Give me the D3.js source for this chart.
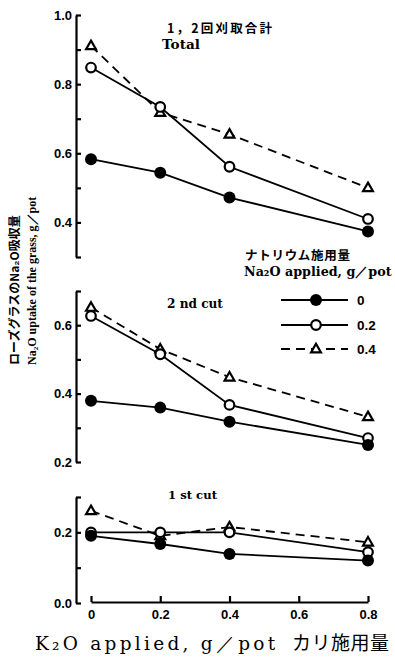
<!DOCTYPE html>
<html>
<head>
<meta charset="utf-8">
<script src="https://cdn.jsdelivr.net/npm/d3@7"></script>
<style>
 body { margin: 0; background: #fff; }
 svg text { fill: #000; }
</style>
</head>
<body>
<script>
// K2O levels on the x axis, Na2O levels as series
var kLevels  = [0, 0.2, 0.4, 0.8]
var naLevels = ['0', '0.2', '0.4']
var xTicks   = [0, 0.2, 0.4, 0.6, 0.8]

// 1,2 cut total
var total_0  = [0.583, 0.544, 0.472, 0.374]
var total_02 = [0.848, 0.734, 0.561, 0.410]
var total_04 = [0.911, 0.718, 0.655, 0.500]
// 2nd cut
var cut2_0   = [0.379, 0.359, 0.318, 0.250]
var cut2_02  = [0.627, 0.515, 0.367, 0.270]
var cut2_04  = [0.652, 0.530, 0.448, 0.332]
// 1st cut
var cut1_0   = [0.190, 0.167, 0.139, 0.120]
var cut1_02  = [0.200, 0.200, 0.200, 0.144]
var cut1_04  = [0.261, 0.190, 0.215, 0.172]

var totalTicks = [0.3, 0.4, 0.5, 0.6, 0.7, 0.8, 0.9, 1.0]
var cut2Ticks  = [0.2, 0.3, 0.4, 0.5, 0.6, 0.7]
var cut1Ticks  = [0.0, 0.1, 0.2, 0.3]

var W = 395, H = 664
var svg = d3.select('body').append('svg').attr('width', W).attr('height', H)

var sans  = '"Liberation Sans Narrow", "Liberation Sans", Arial, sans-serif'
var serif = '"DejaVu Serif", "Liberation Serif", serif'
var times = '"Liberation Serif", serif'
var cjk   = '"Noto Sans CJK JP", sans-serif'

// scale font size so a text spans the width seen in the picture
function fit(t, width) {
  var size = +t.attr('font-size')
  var len = t.node().getComputedTextLength()
  if (len > 0) t.attr('font-size', (size * width / len).toFixed(2))
  return t
}
// same, but by widening the letter spacing
function spread(t, width) {
  var len = t.node().getComputedTextLength()
  var n = t.text().length
  if (len > 0 && n > 1) t.attr('letter-spacing', ((width - len) / (n - 1)).toFixed(2))
  return t
}

var x = d3.scaleLinear().domain([0, 0.8]).range([91, 368])

var panels = [
  {name: 'total', domain: [0.3, 1.0], range: [257, 15],  ticks: totalTicks, series: [total_0, total_02, total_04]},
  {name: 'cut2',  domain: [0.2, 0.7], range: [462, 291], ticks: cut2Ticks,  series: [cut2_0, cut2_02, cut2_04]},
  {name: 'cut1',  domain: [0.0, 0.3], range: [603, 497], ticks: cut1Ticks,  series: [cut1_0, cut1_02, cut1_04]}
]

var styles = {
  '0':   {dash: null,  marker: 'dot'},
  '0.2': {dash: null,  marker: 'ring'},
  '0.4': {dash: '9,6', marker: 'tri'}
}

function marker(g, type, cx, cy) {
  if (type == 'dot') {
    g.append('circle').attr('cx', cx).attr('cy', cy).attr('r', 6).attr('fill', '#000')
  } else if (type == 'ring') {
    g.append('circle').attr('cx', cx).attr('cy', cy).attr('r', 4.8)
     .attr('fill', '#fff').attr('stroke', '#000').attr('stroke-width', 2.2)
  } else {
    g.append('path').attr('transform', 'translate(' + cx + ',' + (cy + 0.5) + ')')
     .attr('d', d3.symbol(d3.symbolTriangle, 42)())
     .attr('fill', '#fff').attr('stroke', '#000').attr('stroke-width', 2.2)
  }
}

panels.forEach(function(p) {
  var y = d3.scaleLinear().domain(p.domain).range(p.range)
  var g = svg.append('g').attr('class', p.name)

  var ax = g.append('g').attr('transform', 'translate(76,0)')
    .call(d3.axisLeft(y).tickValues(p.ticks).tickSizeInner(-5).tickSizeOuter(0).tickPadding(4)
      .tickFormat(function(d) { return Math.round(d * 10) % 2 === 0 ? d3.format('.1f')(d) : '' }))
  ax.select('.domain').attr('stroke-width', 2.2)
  ax.selectAll('.tick line').attr('stroke-width', 2.2)
  ax.selectAll('text').attr('font-family', sans).attr('font-weight', 'bold').attr('font-size', 13).attr('fill', '#000')

  var line = d3.line().x(function(d, i) { return x(kLevels[i]) }).y(function(d) { return y(d) })

  // draw 0.4 first so circles sit on top
  for (var s = p.series.length - 1; s >= 0; s--) {
    var st = styles[naLevels[s]]
    g.append('path').datum(p.series[s]).attr('d', line)
      .attr('fill', 'none').attr('stroke', '#000').attr('stroke-width', 1.8)
      .attr('stroke-dasharray', st.dash)
    for (var i = 0; i < kLevels.length; i++) {
      marker(g, st.marker, x(kLevels[i]), y(p.series[s][i]))
    }
  }
})

// x axis (bottom panel only)
var xa = svg.append('g').attr('transform', 'translate(0,602)')
  .call(d3.axisBottom(x).tickValues(xTicks).tickSizeInner(-6).tickSizeOuter(0).tickPadding(8)
    .tickFormat(function(d) { return d === 0 ? '0' : d3.format('.1f')(d) }))
xa.select('.domain').attr('stroke-width', 2.2)
xa.selectAll('.tick line').attr('stroke-width', 2.2)
xa.selectAll('text').attr('font-family', sans).attr('font-weight', 'bold').attr('font-size', 13).attr('fill', '#000')

// panel titles
spread(svg.append('text').attr('x', 167).attr('y', 33).attr('font-family', cjk).attr('font-size', 12.5)
  .attr('font-weight', 'bold').text('1，2回刈取合計'), 105)
fit(svg.append('text').attr('x', 162).attr('y', 49).attr('font-family', serif).attr('font-size', 11)
  .attr('font-weight', 'bold').text('Total'), 38)
fit(svg.append('text').attr('x', 167).attr('y', 308).attr('font-family', serif).attr('font-size', 12.5)
  .attr('font-weight', 'bold').text('2 nd cut'), 56)
fit(svg.append('text').attr('x', 168).attr('y', 499).attr('font-family', serif).attr('font-size', 12.5)
  .attr('font-weight', 'bold').text('1 st cut'), 49)

// legend
var lg = svg.append('g')
spread(lg.append('text').attr('x', 245).attr('y', 260).attr('font-family', cjk).attr('font-size', 12.5)
  .attr('font-weight', 'bold').text('ナトリウム施用量'), 105)
fit(lg.append('text').attr('x', 244).attr('y', 276).attr('font-family', serif).attr('font-size', 11.5)
  .attr('font-weight', 'bold').text('Na₂O applied, g／pot'), 148)
var legendY = [300, 325, 349]
naLevels.forEach(function(n, i) {
  var st = styles[n]
  lg.append('line').attr('x1', 281).attr('x2', 348).attr('y1', legendY[i]).attr('y2', legendY[i])
    .attr('stroke', '#000').attr('stroke-width', 1.8).attr('stroke-dasharray', st.dash)
  marker(lg, st.marker, 316, legendY[i])
  lg.append('text').attr('x', 357).attr('y', legendY[i] + 5).attr('font-family', sans)
    .attr('font-weight', 'bold').attr('font-size', 13.5).text(n)
})

// y axis title, two rotated lines
svg.append('text').attr('transform', 'translate(19,365) rotate(-90)').attr('font-family', cjk)
  .attr('font-size', 12).attr('font-weight', 'bold').text('ローズグラスのNa₂O吸収量')
svg.append('text').attr('transform', 'translate(36,365) rotate(-90)').attr('font-family', times)
  .attr('font-size', 12).attr('font-weight', 'bold').text('Na₂O uptake of the grass, g／pot')

// x axis title
spread(svg.append('text').attr('x', 35).attr('y', 650).attr('font-family', serif).attr('font-size', 18.5)
  .text('K₂O applied, g／pot'), 240)
svg.append('text').attr('x', 292).attr('y', 650).attr('font-family', cjk).attr('font-size', 19)
  .attr('letter-spacing', 0.5).text('カリ施用量')
</script>
</body>
</html>
